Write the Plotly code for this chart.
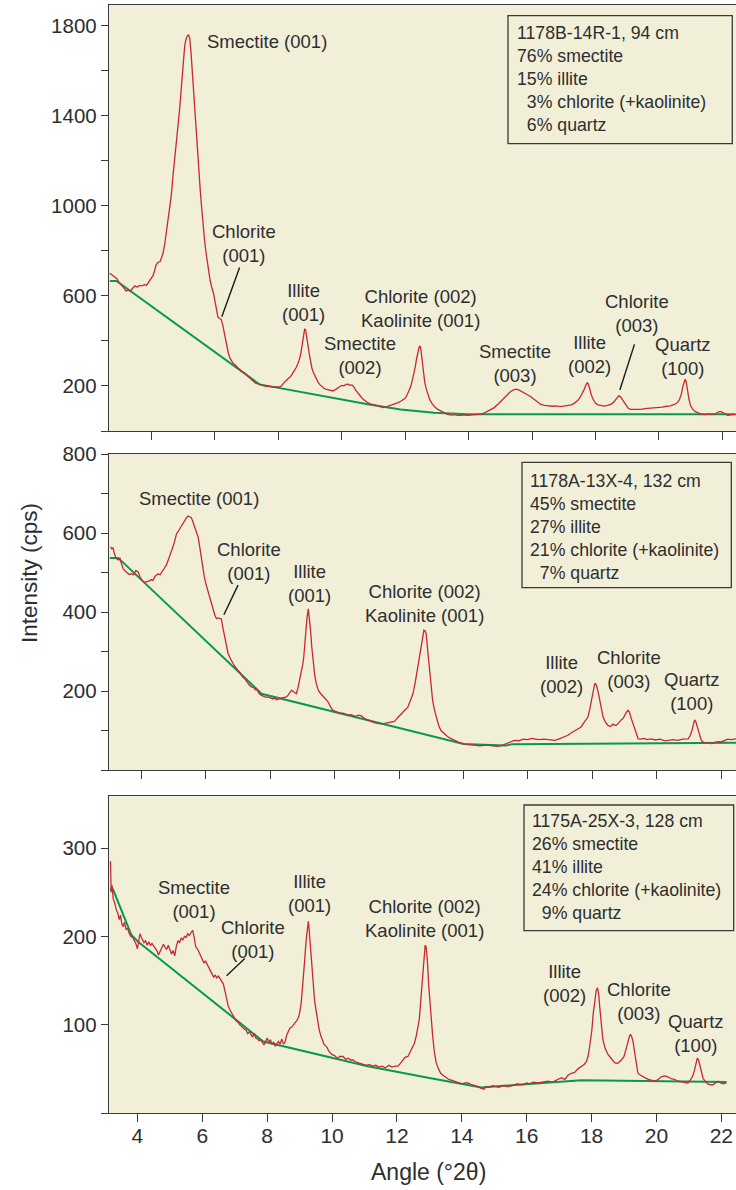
import plotly.graph_objects as go

# ---------------- data ----------------
# Panel 1: 1178B-14R-1, 94 cm
p1_x = [2.69, 2.75, 2.8, 2.86, 2.92, 2.98, 3.05, 3.12, 3.2, 3.27,
        3.33, 3.4, 3.47, 3.55, 3.63, 3.7, 3.78, 3.85, 3.92, 3.98,
        4.05, 4.1, 4.15, 4.21, 4.27, 4.32, 4.37, 4.42, 4.47, 4.52,
        4.58, 4.63, 4.68, 4.73, 4.79, 4.84, 4.89, 4.94, 4.98, 5.02,
        5.05, 5.09, 5.13, 5.17, 5.21, 5.25, 5.29, 5.34, 5.38, 5.42,
        5.46, 5.49, 5.54, 5.58, 5.63, 5.68, 5.74, 5.79, 5.85, 5.9,
        5.96, 6.02, 6.07, 6.1, 6.15, 6.2, 6.25, 6.3, 6.36, 6.42,
        6.47, 6.53, 6.58, 6.63, 6.68, 6.73, 6.78, 6.84, 6.9, 6.95,
        7.0, 7.06, 7.12, 7.2, 7.27, 7.34, 7.41, 7.48, 7.55, 7.62,
        7.7, 7.78, 7.86, 7.94, 8.02, 8.1, 8.15, 8.2, 8.25, 8.3,
        8.36, 8.41, 8.46, 8.52, 8.57, 8.62, 8.67, 8.72, 8.76, 8.8,
        8.83, 8.86, 8.9, 8.94, 8.98, 9.02, 9.06, 9.1, 9.15, 9.2,
        9.26, 9.32, 9.38, 9.44, 9.5, 9.57, 9.64, 9.72, 9.8, 9.87,
        9.93, 10.0, 10.07, 10.14, 10.2, 10.26, 10.32, 10.38, 10.44, 10.5,
        10.56, 10.62, 10.68, 10.75, 10.82, 10.9, 10.98, 11.06, 11.14, 11.22,
        11.3, 11.38, 11.46, 11.54, 11.62, 11.7, 11.78, 11.86, 11.94, 12.0,
        12.06, 12.12, 12.17, 12.22, 12.27, 12.32, 12.36, 12.4, 12.44, 12.47,
        12.5, 12.54, 12.58, 12.62, 12.67, 12.72, 12.78, 12.85, 12.93, 13.03,
        13.13, 13.24, 13.34, 13.45, 13.56, 13.66, 13.76, 13.86, 13.97, 14.1,
        14.24, 14.39, 14.52, 14.66, 14.81, 14.95, 15.08, 15.2, 15.3, 15.4,
        15.5, 15.58, 15.68, 15.78, 15.87, 15.96, 16.06, 16.16, 16.28, 16.4,
        16.52, 16.64, 16.76, 16.88, 17.0, 17.12, 17.24, 17.34, 17.44, 17.52,
        17.59, 17.65, 17.7, 17.74, 17.78, 17.82, 17.87, 17.93, 18.0, 18.08,
        18.18, 18.28, 18.38, 18.48, 18.56, 18.63, 18.69, 18.74, 18.79, 18.84,
        18.9, 18.96, 19.03, 19.1, 19.2, 19.3, 19.44, 19.56, 19.7, 19.84,
        19.96, 20.1, 20.24, 20.36, 20.49, 20.58, 20.65, 20.71, 20.76, 20.8,
        20.83, 20.86, 20.9, 20.95, 21.0, 21.07, 21.15, 21.24, 21.33, 21.45,
        21.55, 21.64, 21.74, 21.82, 21.9, 21.96, 22.03, 22.1, 22.17, 22.3,
        22.42]
p1_y = [701, 695, 692, 684, 676, 660, 650, 638, 622, 628,
        621, 635, 644, 640, 647, 645, 650, 648, 662, 676,
        690, 712, 740, 750, 752, 770, 793, 830, 881, 920,
        975, 1050, 1133, 1200, 1267, 1350, 1430, 1520, 1593, 1660,
        1711, 1740, 1756, 1760, 1745, 1680, 1590, 1474, 1385, 1296,
        1220, 1148, 1070, 1000, 915, 840, 775, 720, 670, 640,
        610, 565, 520, 505, 500, 496, 470, 430, 395, 350,
        326, 310, 300, 296, 285, 280, 274, 265, 262, 255,
        250, 240, 236, 222, 214, 210, 206, 203, 200, 198,
        199, 196, 194, 197, 195, 200, 210, 218, 224, 230,
        238, 246, 258, 270, 283, 300, 320, 352, 390, 430,
        452, 450, 420, 378, 340, 305, 280, 262, 245, 232,
        215, 205, 196, 190, 186, 183, 180, 178, 184, 192,
        199, 203, 201, 207, 208, 203, 205, 196, 182, 170,
        160, 150, 141, 133, 126, 121, 119, 114, 112, 108,
        104, 106, 110, 114, 117, 120, 126, 132, 139, 145,
        160, 178, 195, 222, 250, 285, 320, 352, 372, 378,
        360, 310, 260, 215, 185, 160, 138, 122, 108, 96,
        88, 80, 74, 71, 73, 70, 69, 72, 70, 72,
        73, 75, 82, 92, 104, 122, 142, 160, 172, 182,
        186, 183, 176, 168, 160, 152, 140, 128, 118, 114,
        112, 110, 112, 108, 111, 112, 116, 124, 135, 150,
        168, 186, 205, 214, 208, 185, 160, 140, 124, 116,
        112, 111, 114, 118, 126, 138, 150, 157, 152, 142,
        130, 115, 102, 96, 95, 97, 96, 99, 100, 102,
        104, 106, 110, 112, 118, 125, 140, 165, 200, 225,
        230, 220, 180, 140, 112, 96, 86, 79, 75, 73,
        76, 74, 75, 80, 86, 86, 80, 73, 70, 73,
        74]
b1_x = [2.69, 2.9, 7.41, 10.82, 11.86, 12.91, 13.97, 22.42]
b1_y = [667, 667, 207, 119, 96, 81, 74, 74]

# Panel 2: 1178A-13X-4, 132 cm
p2_x = [3.04, 3.08, 3.12, 3.16, 3.22, 3.28, 3.33, 3.38, 3.43, 3.48,
        3.55, 3.62, 3.69, 3.76, 3.83, 3.9, 3.96, 4.02, 4.09, 4.16,
        4.23, 4.3, 4.36, 4.42, 4.47, 4.52, 4.58, 4.62, 4.67, 4.72,
        4.78, 4.83, 4.88, 4.93, 4.98, 5.04, 5.09, 5.15, 5.2, 5.24,
        5.29, 5.34, 5.4, 5.45, 5.5, 5.55, 5.6, 5.66, 5.71, 5.76,
        5.81, 5.86, 5.9, 5.95, 6.0, 6.06, 6.12, 6.18, 6.23, 6.28,
        6.33, 6.38, 6.43, 6.48, 6.53, 6.59, 6.64, 6.69, 6.75, 6.8,
        6.85, 6.9, 6.95, 7.0, 7.07, 7.14, 7.21, 7.28, 7.35, 7.42,
        7.48, 7.53, 7.57, 7.62, 7.67, 7.73, 7.8, 7.87, 7.93, 8.0,
        8.08, 8.14, 8.19, 8.27, 8.35, 8.42, 8.5, 8.56, 8.61, 8.66,
        8.72, 8.77, 8.81, 8.86, 8.92, 8.97, 9.01, 9.04, 9.07, 9.1,
        9.14, 9.18, 9.21, 9.25, 9.29, 9.33, 9.38, 9.43, 9.49, 9.55,
        9.6, 9.64, 9.7, 9.75, 9.8, 9.87, 9.95, 10.03, 10.1, 10.18,
        10.26, 10.34, 10.42, 10.5, 10.57, 10.65, 10.75, 10.83, 10.93, 11.03,
        11.13, 11.23, 11.33, 11.44, 11.55, 11.65, 11.76, 11.86, 11.96, 12.06,
        12.16, 12.27, 12.35, 12.43, 12.5, 12.56, 12.62, 12.68, 12.73, 12.77,
        12.81, 12.84, 12.89, 12.94, 12.99, 13.04, 13.1, 13.17, 13.23, 13.3,
        13.4, 13.5, 13.6, 13.72, 13.85, 14.0, 14.15, 14.35, 14.5, 14.7,
        14.9, 15.05, 15.17, 15.3, 15.45, 15.58, 15.72, 15.85, 16.0, 16.1,
        16.2, 16.35, 16.5, 16.65, 16.83, 16.95, 17.08, 17.24, 17.36, 17.48,
        17.58, 17.65, 17.72, 17.8, 17.86, 17.92, 17.96, 17.99, 18.03, 18.07,
        18.1, 18.14, 18.19, 18.24, 18.29, 18.33, 18.4, 18.48, 18.56, 18.64,
        18.7, 18.74, 18.8, 18.86, 18.91, 18.95, 19.0, 19.06, 19.11, 19.15,
        19.2, 19.26, 19.32, 19.37, 19.42, 19.5, 19.6, 19.7, 19.83, 19.95,
        20.1, 20.25, 20.35, 20.5, 20.65, 20.8, 20.97, 21.04, 21.09, 21.13,
        21.17, 21.21, 21.26, 21.31, 21.38, 21.45, 21.55, 21.69, 21.8, 21.9,
        22.0, 22.11, 22.2, 22.3, 22.46]
p2_y = [565, 560, 563, 548, 535, 532, 536, 520, 510, 505,
        500, 495, 497, 494, 505, 501, 488, 480, 475, 476,
        478, 482, 480, 490, 495, 497, 494, 500, 505, 512,
        520, 531, 540, 552, 565, 582, 598, 605, 612, 615,
        622, 630, 639, 643, 640, 639, 628, 615, 603, 590,
        565, 539, 510, 490, 472, 455, 438, 422, 404, 392,
        383, 385, 384, 383, 360, 337, 314, 295, 284, 275,
        269, 262, 256, 252, 245, 236, 231, 222, 215, 210,
        210, 203, 206, 198, 192, 189, 186, 184, 185, 182,
        180, 183, 178, 180, 182, 184, 185, 190, 196, 202,
        198, 194, 193, 208, 230, 252, 268, 286, 318, 354,
        385, 408, 390, 354, 310, 269, 240, 218, 202, 195,
        190, 185, 180, 176, 172, 160, 151, 148, 145, 143,
        144, 141, 139, 140, 138, 136, 139, 137, 130, 126,
        122, 120, 118, 117, 118, 120, 121, 123, 133, 143,
        150, 159, 175, 193, 222, 252, 288, 320, 345, 354,
        352, 345, 300, 252, 210, 176, 151, 128, 112, 100,
        92, 85, 80, 75, 70, 66, 64, 62, 61, 63,
        62, 60, 62, 66, 72, 75, 74, 78, 77, 80,
        79, 77, 78, 76, 75, 78, 82, 88, 95, 100,
        106, 109, 118, 128, 134, 155, 172, 185, 205, 218,
        219, 210, 193, 170, 150, 134, 122, 113, 110, 116,
        113, 113, 118, 124, 128, 130, 138, 147, 151, 146,
        132, 117, 100, 88, 79, 78, 80, 77, 79, 76,
        78, 74, 75, 77, 75, 78, 79, 88, 100, 116,
        127, 122, 109, 90, 75, 70, 68, 67, 70, 72,
        71, 75, 78, 77, 79]
b2_x = [3.02, 3.28, 7.73, 11.03, 14.0, 15.3, 15.5, 22.46]
b2_y = [537, 537, 193, 126, 66, 62, 65, 69]

# Panel 3: 1175A-25X-3, 128 cm
p3_x = [3.17, 3.19, 3.22, 3.25, 3.3, 3.35, 3.4, 3.44, 3.48, 3.52,
        3.56, 3.6, 3.65, 3.7, 3.75, 3.8, 3.85, 3.9, 3.95, 4.0,
        4.04, 4.08, 4.12, 4.16, 4.2, 4.25, 4.3, 4.35, 4.4, 4.45,
        4.5, 4.55, 4.6, 4.65, 4.7, 4.75, 4.8, 4.85, 4.9, 4.95,
        5.0, 5.05, 5.1, 5.15, 5.2, 5.25, 5.3, 5.35, 5.4, 5.45,
        5.5, 5.55, 5.6, 5.65, 5.7, 5.75, 5.8, 5.85, 5.9, 5.95,
        6.0, 6.05, 6.1, 6.15, 6.2, 6.25, 6.3, 6.35, 6.4, 6.45,
        6.5, 6.55, 6.6, 6.65, 6.7, 6.75, 6.8, 6.85, 6.9, 6.95,
        7.0, 7.05, 7.1, 7.15, 7.2, 7.25, 7.3, 7.35, 7.4, 7.45,
        7.5, 7.55, 7.6, 7.65, 7.7, 7.75, 7.8, 7.85, 7.9, 7.95,
        8.0, 8.05, 8.1, 8.15, 8.2, 8.25, 8.3, 8.35, 8.4, 8.45,
        8.5, 8.55, 8.6, 8.65, 8.7, 8.75, 8.8, 8.85, 8.9, 8.95,
        9.0, 9.05, 9.1, 9.15, 9.2, 9.24, 9.27, 9.3, 9.34, 9.38,
        9.42, 9.46, 9.5, 9.55, 9.6, 9.65, 9.7, 9.75, 9.8, 9.85,
        9.9, 9.95, 10.0, 10.08, 10.16, 10.24, 10.34, 10.42, 10.5, 10.58,
        10.65, 10.72, 10.8, 10.88, 10.96, 11.05, 11.15, 11.25, 11.35, 11.45,
        11.55, 11.65, 11.75, 11.85, 11.95, 12.03, 12.1, 12.17, 12.25, 12.34,
        12.42, 12.48, 12.54, 12.6, 12.65, 12.69, 12.73, 12.77, 12.8, 12.84,
        12.87, 12.9, 12.94, 12.98, 13.02, 13.06, 13.1, 13.15, 13.21, 13.28,
        13.35, 13.41, 13.5, 13.6, 13.7, 13.78, 13.9, 14.0, 14.1, 14.19,
        14.3, 14.4, 14.5, 14.6, 14.68, 14.75, 14.85, 14.95, 15.05, 15.15,
        15.25, 15.35, 15.42, 15.55, 15.7, 15.85, 16.0, 16.1, 16.2, 16.35,
        16.5, 16.65, 16.8, 16.95, 17.07, 17.18, 17.28, 17.38, 17.48, 17.58,
        17.69, 17.77, 17.84, 17.89, 17.94, 17.98, 18.01, 18.05, 18.1, 18.14,
        18.18, 18.22, 18.25, 18.3, 18.35, 18.42, 18.51, 18.6, 18.71, 18.8,
        18.92, 19.0, 19.07, 19.12, 19.16, 19.2, 19.24, 19.28, 19.33, 19.38,
        19.43, 19.5, 19.57, 19.64, 19.75, 19.85, 19.95, 20.05, 20.15, 20.25,
        20.35, 20.45, 20.56, 20.66, 20.78, 20.88, 20.97, 21.06, 21.12, 21.17,
        21.22, 21.26, 21.3, 21.34, 21.38, 21.44, 21.5, 21.58, 21.66, 21.74,
        21.82, 21.9, 21.98, 22.06, 22.16]
p3_y = [285, 250, 258, 243, 238, 230, 226, 219, 224, 214,
        211, 216, 208, 209, 203, 200, 199, 196, 192, 186,
        194, 203, 199, 196, 193, 195, 190, 194, 190, 192,
        189, 186, 184, 179, 183, 186, 191, 188, 185, 190,
        186, 180, 184, 178, 189, 195, 193, 198, 196, 200,
        199, 203, 201, 205, 207, 199, 188, 186, 182, 178,
        173, 170, 172, 168, 165, 160, 156, 154, 156, 153,
        155, 152, 150, 146, 138, 128, 121, 117, 113, 109,
        107, 104, 103, 100, 98, 97, 95, 94, 90, 92,
        88, 86, 90, 85, 84, 82, 83, 79, 77, 81,
        85, 80, 83, 78, 80, 76, 79, 81, 78, 84,
        78, 80, 88, 93, 96, 97, 99, 101, 104, 107,
        113, 125, 145, 170, 195, 212, 217, 205, 185, 160,
        140, 128, 118, 105, 95, 88, 82, 78, 76, 74,
        70, 68, 66, 65, 62, 64, 64, 61, 62, 60,
        60, 58, 57, 56, 55, 54, 55, 53, 54, 52,
        53, 51, 54, 52, 53, 53, 56, 60, 63, 64,
        70, 76, 79, 88, 98, 106, 125, 145, 160, 180,
        190, 188, 172, 145, 122, 106, 88, 70, 57, 50,
        45, 43, 41, 38, 37, 36, 35, 33, 34, 34,
        32, 31, 30, 28, 27, 30, 29, 31, 30, 29,
        31, 30, 30, 31, 33, 32, 34, 33, 35, 34,
        35, 36, 35, 38, 40, 38, 43, 45, 46, 50,
        53, 55, 58, 64, 75, 85, 94, 112, 128, 138,
        142, 135, 121, 100, 83, 73, 66, 62, 57, 56,
        60, 64, 72, 80, 86, 89, 86, 81, 68, 55,
        45, 43, 41, 40, 38, 37, 36, 38, 41, 42,
        41, 39, 38, 36, 35, 34, 34, 38, 42, 48,
        56, 62, 60, 53, 46, 39, 36, 33, 32, 32,
        34, 36, 34, 33, 34]
b3_x = [3.15, 3.25, 3.81, 4.02, 7.88, 11.1, 12.96, 14.6, 17.69, 22.16]
b3_y = [253, 253, 202, 194, 81, 53, 40, 29, 37, 35]

x_ticks = [4, 6, 8, 10, 12, 14, 16, 18, 20, 22]
y1_ticks = [0, 200, 400, 600, 800, 1000, 1200, 1400, 1600, 1800]
y1_text = ["", "200", "", "600", "", "1000", "", "1400", "", "1800"]
y2_ticks = [0, 100, 200, 300, 400, 500, 600, 700, 800]
y2_text = ["", "", "200", "", "400", "", "600", "", "800"]
y3_ticks = [0, 100, 200, 300]
y3_text = ["", "100", "200", "300"]

box_texts = [
    ["1178B-14R-1, 94 cm", "76% smectite", "15% illite",
     "\u00a0\u00a03% chlorite (+kaolinite)", "\u00a0\u00a06% quartz"],
    ["1178A-13X-4, 132 cm", "45% smectite", "27% illite",
     "21% chlorite (+kaolinite)", "\u00a0\u00a07% quartz"],
    ["1175A-25X-3, 128 cm", "26% smectite", "41% illite",
     "24% chlorite (+kaolinite)", "\u00a0\u00a09% quartz"],
]

# peak labels: (text, x, y) per panel
labels1 = [("Smectite (001)", 7.63, 1733), ("Chlorite<br>(001)", 6.93, 834),
           ("Illite<br>(001)", 8.81, 572), ("Smectite<br>(002)", 10.57, 336),
           ("Chlorite (002)<br>Kaolinite (001)", 12.49, 544),
           ("Smectite<br>(003)", 15.45, 300), ("Illite<br>(002)", 17.8, 341),
           ("Chlorite<br>(003)", 19.3, 522), ("Quartz<br>(100)", 20.77, 333)]
labels2 = [("Smectite (001)", 5.79, 687), ("Chlorite<br>(001)", 7.33, 529),
           ("Illite<br>(001)", 9.23, 471),
           ("Chlorite (002)<br>Kaolinite (001)", 12.8, 421.5),
           ("Illite<br>(002)", 17.03, 243), ("Chlorite<br>(003)", 19.13, 255),
           ("Quartz<br>(100)", 21.08, 198.5)]
labels3 = [("Smectite<br>(001)", 5.74, 242), ("Chlorite<br>(001)", 7.56, 197),
           ("Illite<br>(001)", 9.31, 249),
           ("Chlorite (002)<br>Kaolinite (001)", 12.86, 220),
           ("Illite<br>(002)", 17.16, 147), ("Chlorite<br>(003)", 19.47, 126),
           ("Quartz<br>(100)", 21.23, 89.8)]

for a, b in [(p1_x, p1_y), (p2_x, p2_y), (p3_x, p3_y), (b1_x, b1_y), (b2_x, b2_y), (b3_x, b3_y)]:
    assert len(a) == len(b), (len(a), len(b))

# ---------------- styling ----------------
FONT = "Liberation Sans, Arial, Helvetica, sans-serif"
TXT = "#2e2e2e"
AX = "#3a3a3a"
RED = "#c8282e"
GREEN = "#069a4e"
BG = "#f2efd9"

W, H = 736, 1190
ML, MR, MT, MB = 109, 0, 5, 77
PH = H - MT - MB


def ydom(top_px, bot_px):
    return [(H - MB - bot_px) / PH, (H - MB - top_px) / PH]


def px_x(px):
    return (px - ML) / (W - ML - MR)


def px_y(py):
    return (H - MB - py) / PH


fig = go.Figure()

panels = [
    (p1_x, p1_y, b1_x, b1_y, "x", "y"),
    (p2_x, p2_y, b2_x, b2_y, "x2", "y2"),
    (p3_x, p3_y, b3_x, b3_y, "x3", "y3"),
]
for px_, py_, bx_, by_, xa, ya in panels:
    fig.add_trace(go.Scatter(x=bx_, y=by_, mode="lines", xaxis=xa, yaxis=ya,
                             line=dict(color=GREEN, width=2), showlegend=False,
                             hoverinfo="skip"))
    fig.add_trace(go.Scatter(x=px_, y=py_, mode="lines", xaxis=xa, yaxis=ya,
                             line=dict(color=RED, width=1.3), showlegend=False))

common_x = dict(tickvals=x_ticks, ticks="outside", ticklen=8, tickwidth=1.2,
                tickcolor=AX, showline=True, linecolor=AX, linewidth=1.4,
                mirror=True, showgrid=False, zeroline=False, automargin=False,
                tickfont=dict(family=FONT, size=21, color=TXT))
common_y = dict(ticks="outside", ticklen=7, tickwidth=1.2, tickcolor=AX,
                showline=True, linecolor=AX, linewidth=1.4, showgrid=False,
                zeroline=False, automargin=False,
                tickfont=dict(family=FONT, size=20.5, color=TXT))

fig.update_layout(
    template="none",
    width=W, height=H,
    margin=dict(l=ML, r=MR, t=MT, b=MB, autoexpand=False),
    paper_bgcolor="white", plot_bgcolor=BG,
    font=dict(family=FONT, color=TXT),
    xaxis=dict(common_x, domain=[0, 1], range=[2.663, 22.432], anchor="y",
               showticklabels=False),
    xaxis2=dict(common_x, domain=[0, 1], range=[2.994, 22.457], anchor="y2",
                showticklabels=False),
    xaxis3=dict(common_x, domain=[0, 1], range=[3.124, 22.453], anchor="y3",
                ticklabelstandoff=-4),
    yaxis=dict(common_y, domain=ydom(5, 431), range=[0, 1893], anchor="x",
               tickvals=y1_ticks, ticktext=y1_text),
    yaxis2=dict(common_y, domain=ydom(454, 770), range=[0, 800], anchor="x2",
                tickvals=y2_ticks, ticktext=y2_text),
    yaxis3=dict(common_y, domain=ydom(796, 1113), range=[0, 359], anchor="x3",
                tickvals=y3_ticks, ticktext=y3_text),
)

annotations = []
shapes = []
LFONT = dict(family=FONT, size=18.5, color=TXT)
for labels, xa, ya in [(labels1, "x", "y"), (labels2, "x2", "y2"), (labels3, "x3", "y3")]:
    for t, lx, ly in labels:
        annotations.append(dict(text=t, x=lx, y=ly, xref=xa, yref=ya,
                                showarrow=False, font=LFONT, align="center",
                                xanchor="center", yanchor="middle"))

# leader lines
for (x0, y0, x1, y1, xa, ya) in [(6.78, 727, 6.22, 508, "x", "y"),
                                 (19.23, 385, 18.77, 182, "x", "y"),
                                 (7.0, 468, 6.56, 393, "x2", "y2"),
                                 (7.31, 175, 6.75, 155.5, "x3", "y3")]:
    shapes.append(dict(type="line", x0=x0, y0=y0, x1=x1, y1=y1, xref=xa, yref=ya,
                       line=dict(color="#1a1a1a", width=1.4)))

# info boxes (pixel geometry -> paper)
boxes = [
    (508, 732.3, 15.7, 143.7, 514.5, 79.0),
    (522, 731.3, 462.3, 587.7, 527.8, 526.7),
    (524, 733.7, 805, 930.7, 529.5, 867.3),
]
for (bx0, bx1, by0, by1, tx, ty), lines in zip(boxes, box_texts):
    shapes.append(dict(type="rect", xref="paper", yref="paper",
                       x0=px_x(bx0), x1=px_x(bx1), y0=px_y(by1), y1=px_y(by0),
                       line=dict(color=AX, width=1.3), fillcolor="rgba(0,0,0,0)"))
    annotations.append(dict(text="<br>".join(lines), xref="paper", yref="paper",
                            x=px_x(tx), y=px_y(ty), xanchor="left", yanchor="middle",
                            align="left", showarrow=False,
                            font=dict(family=FONT, size=17.7, color=TXT)))

# axis titles
annotations.append(dict(text="Intensity (cps)", xref="paper", yref="paper",
                        x=px_x(29.7), y=px_y(573.3), textangle=-90,
                        xanchor="center", yanchor="middle", showarrow=False,
                        font=dict(family=FONT, size=22.5, color=TXT)))
annotations.append(dict(text="Angle (\u00b02\u03b8)", xref="paper", yref="paper",
                        x=px_x(428.3), y=px_y(1172), xanchor="center",
                        yanchor="middle", showarrow=False,
                        font=dict(family=FONT, size=23, color=TXT)))

fig.update_layout(annotations=annotations, shapes=shapes)
fig.write_html("out.html",
               config={"displayModeBar": False},
               post_script="document.body.style.margin='0px';"
                           "document.body.style.overflow='hidden';")
